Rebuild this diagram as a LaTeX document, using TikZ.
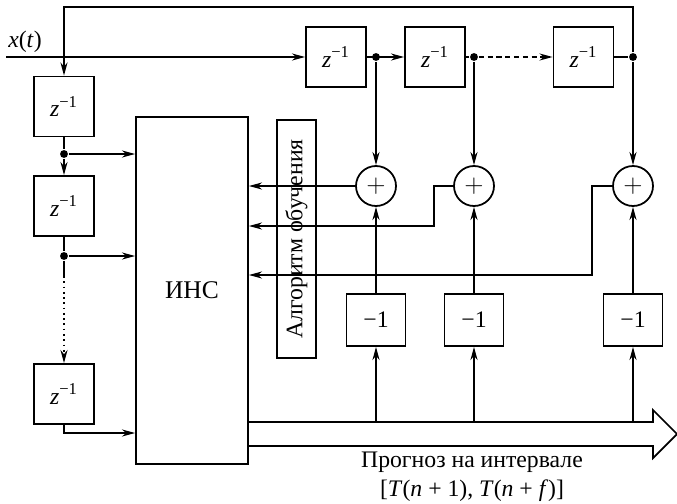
\documentclass[tikz,border=0pt]{standalone}
\usepackage{fontspec}
\setmainfont{Liberation Serif}
\usetikzlibrary{arrows.meta}
\newcommand{\zinv}{\textit{z}\textsuperscript{−1}}
\begin{document}
\begin{tikzpicture}[x=0.02cm,y=-0.02cm,line width=1pt,>={Stealth[length=7.5pt,width=4pt]},
  font=\fontsize{13.5}{16.5}\selectfont,
  zbox/.style={draw,minimum width=1.2cm,minimum height=1.2cm,inner sep=0pt},
  mbox/.style={draw,minimum width=1.18cm,minimum height=1.04cm,inner sep=0pt},
  sum/.style={draw,circle,minimum size=0.8cm,inner sep=0pt},
  dot/.style={circle,fill,inner sep=0pt,minimum size=4.5pt}]
  \useasboundingbox (0,0) rectangle (677,504);
  % chaine du haut
  \node[zbox] (T1) at (336,57) {\zinv};
  \node[zbox] (T2) at (435,57) {\zinv};
  \node[zbox] (T3) at (583.5,57) {\zinv};
  % chaine de gauche
  \node[zbox] (L1) at (64,106.5) {\zinv};
  \node[zbox] (L2) at (64,206) {\zinv};
  \node[zbox] (L3) at (64,394) {\zinv};
  \node[draw,minimum width=2.24cm,minimum height=6.94cm,font=\fontsize{14.5}{16}\selectfont] (INS) at (192,290.5) {ИНС};
  \node[draw,minimum width=4.76cm,minimum height=0.78cm,inner sep=0pt,rotate=90] (ALG) at (296.5,239) {Алгоритм обучения};
  % sommateurs
  \node[sum] (S1) at (376,186) {$+$};
  \node[sum] (S2) at (474,186) {$+$};
  \node[sum] (S3) at (633,186) {$+$};
  \node[mbox] (M1) at (376,320) {−1};
  \node[mbox] (M2) at (474,320) {−1};
  \node[mbox] (M3) at (633,320) {−1};
  \node[dot] (D1) at (376,57) {};
  \node[dot] (D2) at (474,57) {};
  \node[dot] (D3) at (633,57) {};
  \node[dot] (E1) at (64,154) {};
  \node[dot] (E2) at (64,256) {};
  \coordinate (IN) at (6,57);
  \coordinate (TOP) at (0,7);
  \coordinate (OUT) at (0,422);
  \node (X) at (25,42) {\textit{x}(\textit{t})};
  % liaisons
  \draw[->] (IN) -- (T1.west);
  \draw[->] (T1.east) -- (T2.west);
  \draw (T2.east) -- (D2);
  \draw[->,dash pattern=on 3pt off 2pt] (D2) -- (T3.west);
  \draw (T3.east) -- (D3);
  \draw[->] (D3) -- (D3 |- TOP) -| (L1.north);
  \draw[->] (D1) -- (S1.north);
  \draw[->] (D2) -- (S2.north);
  \draw[->] (D3) -- (S3.north);
  \draw (L1.south) -- (E1);
  \draw[->] (E1) -- (L2.north);
  \draw[->] (E1) -- (E1 -| INS.west);
  \draw (L2.south) -- (E2) -- (64,276);
  \draw[->] (E2) -- (E2 -| INS.west);
  \draw[->,dotted] (64,276) -- (L3.north);
  \draw[->] (L3.south) |- (INS.west |- 0,433);
  % retour vers le reseau
  \draw[->] (ALG.south |- 0,186) -- (INS.east |- 0,186);
  \draw[->] (ALG.south |- 0,226) -- (INS.east |- 0,226);
  \draw[->] (ALG.south |- 0,275) -- (INS.east |- 0,275);
  \draw (S1.west) -- (ALG.north |- S1);
  \draw (S2.west) -- ++(-19,0) |- (ALG.north |- 0,226);
  \draw (S3.west) -- ++(-20,0) |- (ALG.north |- 0,275);
  \foreach \m/\s in {M1/S1,M2/S2,M3/S3}{
    \draw[->] (\m.north) -- (\s.south);
    \draw[->] (\m |- OUT) -- (\m.south);
  }
  % sortie
  \draw (INS.east |- OUT) -- (653,422) -- (653,410) -- (677,434) -- (653,458) -- (653,446) -- (INS.east |- 0,446);
  \node[align=center] (P) at (472,477) {Прогноз на интервале\\{}[\textit{T}(\textit{n} + 1), \textit{T}(\textit{n} + \textit{f})]};
\end{tikzpicture}
\end{document}
